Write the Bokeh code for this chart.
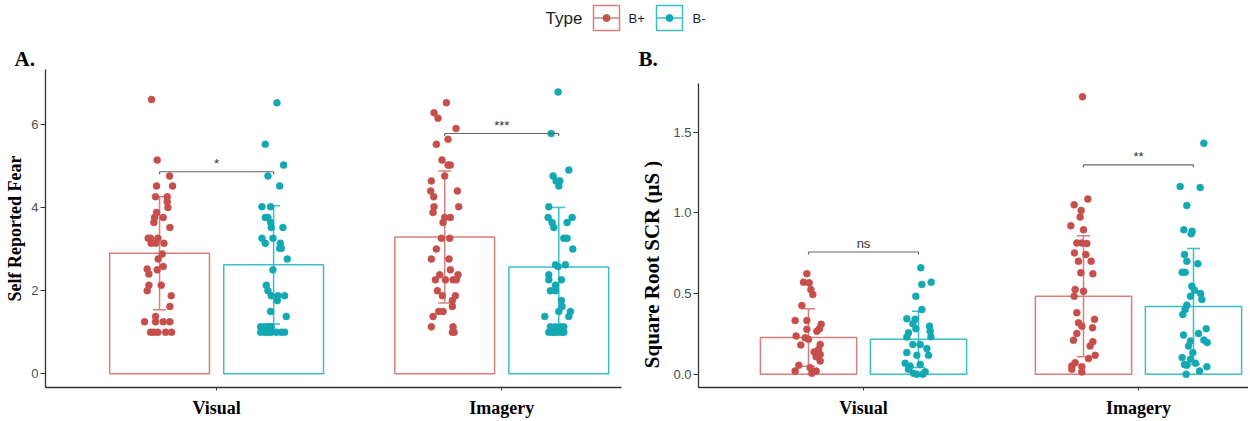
import math
from bokeh.plotting import figure
from bokeh.models import Range1d, FixedTicker, Whisker, TeeHead, ColumnDataSource, Title
from bokeh.layouts import row, column
from bokeh.embed import file_html
from bokeh.resources import INLINE
from bokeh.core.properties import value

# ---------------- data ----------------
categories = ["Visual", "Imagery"]
types = ["B+", "B-"]

# Panel A: self reported fear (bar = mean, error bar = SD)
fear_mean_bplus = [2.90, 3.29]
fear_mean_bminus = [2.62, 2.57]
fear_sd_bplus = [1.36, 1.59]
fear_sd_bminus = [1.42, 1.43]

fear_visual_bplus = [6.60, 5.14, 4.76, 4.52, 4.52, 4.26, 4.26, 4.14, 4.00, 3.88, 3.76, 3.76, 3.64, 3.52,
                     3.26, 3.26, 3.26, 3.14, 3.14, 3.14, 2.88, 2.76, 2.58, 2.52, 2.50, 2.40, 2.13, 2.13,
                     2.00, 1.88, 1.62, 1.25, 1.38, 1.25, 1.25, 1.25, 1.00, 1.00, 1.00, 1.00, 1.00]
fear_visual_bminus = [6.52, 5.52, 5.02, 4.76, 4.52, 4.02, 4.02, 3.76, 3.76, 3.64, 3.52, 3.52, 3.26, 3.26,
                      3.14, 3.14, 3.02, 3.02, 2.76, 2.50, 2.13, 2.00, 1.88, 1.88, 1.88, 1.76, 1.50, 1.38,
                      1.13, 1.13, 1.13, 1.13, 1.00, 1.00, 1.00, 1.00, 1.00, 1.00, 1.00]
fear_imagery_bplus = [6.52, 6.28, 6.15, 5.90, 5.64, 5.52, 5.14, 5.02, 5.02, 4.76, 4.64, 4.40, 4.40, 4.26,
                      4.02, 4.02, 3.88, 3.76, 3.76, 3.64, 3.26, 3.26, 3.00, 2.76, 2.76, 2.50, 2.38, 2.38,
                      2.26, 2.26, 2.26, 2.26, 2.00, 1.88, 1.88, 1.76, 1.62, 1.50, 1.50, 1.38, 1.13, 1.13,
                      1.00, 1.00]
fear_imagery_bminus = [6.78, 5.78, 4.90, 4.76, 4.64, 4.64, 4.52, 4.02, 3.76, 3.76, 3.64, 3.64, 3.52, 3.26,
                       3.26, 3.00, 2.62, 2.62, 2.58, 2.38, 2.26, 2.26, 2.13, 2.00, 2.00, 1.76, 1.62, 1.50,
                       1.50, 1.38, 1.38, 1.13, 1.13, 1.00, 1.00, 1.00, 1.00, 1.00, 1.13, 1.13, 1.00, 1.00]

# Panel B: square root SCR
scr_mean_bplus = [0.228, 0.483]
scr_mean_bminus = [0.216, 0.420]
scr_sd_bplus = [0.178, 0.375]
scr_sd_bminus = [0.174, 0.358]

scr_visual_bplus = [0.623, 0.570, 0.566, 0.525, 0.494, 0.426, 0.333, 0.333, 0.309, 0.282, 0.267, 0.278,
                    0.237, 0.226, 0.216, 0.181, 0.185, 0.154, 0.138, 0.123, 0.109, 0.082, 0.056, 0.020,
                    0.006, 0.020, 0.041]
scr_visual_bminus = [0.659, 0.570, 0.556, 0.483, 0.401, 0.344, 0.340, 0.313, 0.282, 0.298, 0.267, 0.257,
                     0.230, 0.232, 0.185, 0.185, 0.159, 0.134, 0.117, 0.117, 0.068, 0.051, 0.060, 0.006,
                     0.000, 0.015, 0.000, 0.031]
scr_imagery_bplus = [1.718, 1.085, 1.049, 1.014, 0.973, 0.920, 0.895, 0.813, 0.813, 0.809, 0.751, 0.741,
                     0.700, 0.700, 0.628, 0.622, 0.525, 0.514, 0.483, 0.381, 0.340, 0.319, 0.298, 0.288,
                     0.253, 0.210, 0.202, 0.175, 0.117, 0.097, 0.072, 0.051, 0.047, 0.014, 0.031]
scr_imagery_bminus = [1.430, 1.163, 1.156, 1.045, 0.895, 0.885, 0.870, 0.741, 0.700, 0.685, 0.631, 0.631,
                      0.545, 0.520, 0.500, 0.483, 0.463, 0.428, 0.401, 0.370, 0.282, 0.253, 0.243, 0.206,
                      0.212, 0.196, 0.175, 0.134, 0.103, 0.093, 0.056, 0.068, 0.020, 0.047, 0.000, 0.060]

# horizontal jitter of each point
jit_fear_visual_bplus = [-24, -7, 30, -9, 39, -12, 23, 23, 25, -9, 11, -15, -17, 31, -34, -27, -5, -25, -12, 13,
                         8, -4, 11, -37, -7, -32, 5, -32, -37, 35, 31, -45, -12, -12, 11, 31, -27, -17, -5, 18, 36]
jit_fear_visual_bminus = [10, -25, 30, -17, 18, -35, -9, -25, -17, -9, -7, 28, -35, -2, -25, 20, 23, 18, 41, -2,
                          -22, -17, -7, 13, 33, 11, -9, 38, -39, -27, -17, -7, -39, -27, -17, -7, 8, 23, 33]
jit_fear_imagery_bplus = [5, -32, -20, 34, 10, -25, -8, 10, 17, 0, -40, -42, 38, -33, -32, 42, -35, 0, 17, -5,
                          -10, 15, -25, -40, 13, 17, -15, 40, 25, -28, 2, 35, -22, -7, 32, 23, 23, -18, -5, -35,
                          -40, 25, 28, 23]
jit_fear_imagery_bminus = [-2, -23, 30, -17, 3, -8, 0, -30, -32, 40, -20, 25, -15, 15, 25, 42, -10, 20, -2, -30,
                           8, -30, -10, -25, -10, 8, 10, 0, 35, -42, 30, 5, 15, -30, -20, -10, 0, 15, -25, -10,
                           10, -15]
jit_scr_visual_bplus = [-5, -15, 2, 7, 13, -20, -40, -5, 38, 33, 25, -5, -37, -10, 0, -23, 35, 30, 17, 35,
                        23, 35, -29, -40, 10, 23, 5]
jit_scr_visual_bminus = [7, 38, 10, -8, 10, -35, -10, -17, -8, 33, 35, -30, -35, 37, 5, -17, 25, -35, 30, -5,
                         -40, -25, 5, -15, -5, 20, 13, -30]
jit_scr_imagery_bplus = [-3, 13, -28, -7, -10, -38, 0, -20, -5, 10, -27, 7, -15, 23, -8, 28, -25, 0, -28, -20,
                         33, -15, -5, 27, -20, -30, 28, 20, 35, 15, -25, -35, -5, -5, -35]
jit_scr_imagery_bminus = [31, -40, 20, -20, -29, -4, -7, -27, -20, 13, -34, -25, -5, 3, 21, -9, 25, -20, -25, -32,
                          38, 15, -30, -9, 31, 41, -15, -2, -34, -9, -20, 6, 18, 40, -22, -27]

# significance brackets
sig_fear_y = [4.86, 5.78]
sig_fear_label = ["*", "***"]
sig_scr_y = [0.757, 1.296]
sig_scr_label = ["ns", "**"]

# ---------------- styles ----------------
PT_COL = {"B+": "#C64F4B", "B-": "#13A8B3"}
BAR_COL = {"B+": "#D6807C", "B-": "#3CBEC6"}
DODGE = {"B+": -0.2, "B-": 0.2}
BAR_W = 0.35
SERIF = "Liberation Serif"
SANS = "Liberation Sans"
AXIS_COL = "#333333"
PANEL_H = 386
B_TOP, B_BOT = 35, 32


def panel_title(text, offset):
    return Title(text=text, align="left", offset=offset, standoff=-2,
                 text_font=SERIF, text_font_style="bold", text_font_size="21px", text_color="black")


def make_panel(width, border_left, border_right, ylo, yhi, ybounds, yticks, fmt,
               title, title_offset, ylabel, ylabel_size, ylabel_standoff,
               means, sds, pts, jits, jscale, sig_y, sig_lab, drop, xend):
    p = figure(width=width, height=PANEL_H, x_range=Range1d(0.4, xend),
               y_range=Range1d(ylo, yhi), toolbar_location=None, output_backend="svg",
               min_border_left=border_left, min_border_right=border_right,
               min_border_top=B_TOP, min_border_bottom=B_BOT)
    if title is not None:
        p.title = panel_title(title, title_offset)
    p.outline_line_color = None
    p.xgrid.visible = False
    p.ygrid.visible = False
    pos = [i + 1 for i in range(len(categories))]

    for t in types:
        xs = [c + DODGE[t] for c in pos]
        p.vbar(x=xs, top=means[t], bottom=0, width=BAR_W, fill_color=None,
               line_color=BAR_COL[t], line_width=1.5)
    for t in types:
        for ci, c in enumerate(pos):
            vals = pts[t][ci]
            jit = jits[t][ci]
            x = [c + DODGE[t] + j / jscale for j in jit]
            p.scatter(x=x, y=vals, size=7, fill_color=PT_COL[t], line_color=PT_COL[t], line_width=0.5)
    for t in types:
        xs = [c + DODGE[t] for c in pos]
        src = ColumnDataSource(dict(x=xs, lo=[m - s for m, s in zip(means[t], sds[t])],
                                    hi=[m + s for m, s in zip(means[t], sds[t])]))
        w = Whisker(base="x", lower="lo", upper="hi", source=src, line_color=BAR_COL[t], line_width=1.5,
                    upper_head=TeeHead(size=13, line_color=BAR_COL[t], line_width=1.5),
                    lower_head=TeeHead(size=13, line_color=BAR_COL[t], line_width=1.5))
        p.add_layout(w)

    # brackets
    x0 = [c + DODGE["B+"] for c in pos]
    x1 = [c + DODGE["B-"] for c in pos]
    p.segment(x0=x0, x1=x1, y0=sig_y, y1=sig_y, line_color="#666666", line_width=1.2)
    p.segment(x0=x0, x1=x0, y0=sig_y, y1=[y - drop for y in sig_y], line_color="#666666", line_width=1.2)
    p.segment(x0=x1, x1=x1, y0=sig_y, y1=[y - drop for y in sig_y], line_color="#666666", line_width=1.2)
    p.text(x=pos, y=sig_y, text=sig_lab, text_align="center", text_baseline="bottom",
           text_font=value(SANS), text_font_size="13px", text_color="#333333", y_offset=-1)

    # axes
    xa = p.xaxis[0]
    xa.ticker = FixedTicker(ticks=pos)
    xa.major_label_overrides = {c: lab for c, lab in zip(pos, categories)}
    xa.major_label_text_font = SERIF
    xa.major_label_text_font_style = "bold"
    xa.major_label_text_font_size = "18px"
    xa.major_label_text_color = "black"
    xa.major_tick_out = 3
    xa.major_tick_in = 0
    xa.minor_tick_out = 0
    xa.minor_tick_in = 0
    xa.major_label_standoff = 7
    xa.axis_label_standoff = 0
    xa.axis_line_color = AXIS_COL
    xa.axis_line_width = 1.3
    xa.major_tick_line_color = AXIS_COL

    ya = p.yaxis[0]
    ya.ticker = FixedTicker(ticks=yticks)
    ya.bounds = ybounds
    ya.major_label_overrides = {v: fmt.format(v) for v in yticks}
    ya.major_label_text_font = SANS
    ya.major_label_text_font_size = "13px"
    ya.major_label_text_color = "#4D4D4D"
    ya.major_tick_out = 5
    ya.major_tick_in = 0
    ya.minor_tick_out = 0
    ya.minor_tick_in = 0
    ya.major_label_standoff = 2
    ya.axis_line_color = AXIS_COL
    ya.axis_line_width = 1.3
    ya.major_tick_line_color = AXIS_COL
    if ylabel is not None:
        ya.axis_label = ylabel
        ya.axis_label_text_font = SERIF
        ya.axis_label_text_font_style = "bold"
        ya.axis_label_text_font_size = ylabel_size
        ya.axis_label_text_color = "black"
        ya.axis_label_standoff = ylabel_standoff
    return p


pA = make_panel(630, 45, 9, -0.33, 7.32, (-0.33, 7.32), [0, 2, 4, 6], "{:.0f}",
                "A.", -31, "Self Reported Fear", "18px", 3,
                {"B+": fear_mean_bplus, "B-": fear_mean_bminus},
                {"B+": fear_sd_bplus, "B-": fear_sd_bminus},
                {"B+": [fear_visual_bplus, fear_imagery_bplus], "B-": [fear_visual_bminus, fear_imagery_bminus]},
                {"B+": [jit_fear_visual_bplus, jit_fear_imagery_bplus],
                 "B-": [jit_fear_visual_bminus, jit_fear_imagery_bminus]},
                855.0, sig_fear_y, sig_fear_label, 0.06, 2.42)

B_YLO, B_YHI = -0.082, 1.887
pB = make_panel(586, 36, 0, B_YLO, B_YHI, (-0.082, 1.80), [0.0, 0.5, 1.0, 1.5], "{:.1f}",
                None, 0, None, None, None,
                {"B+": scr_mean_bplus, "B-": scr_mean_bminus},
                {"B+": scr_sd_bplus, "B-": scr_sd_bminus},
                {"B+": [scr_visual_bplus, scr_imagery_bplus], "B-": [scr_visual_bminus, scr_imagery_bminus]},
                {"B+": [jit_scr_visual_bplus, jit_scr_imagery_bplus],
                 "B-": [jit_scr_visual_bminus, jit_scr_imagery_bminus]},
                823.5, sig_scr_y, sig_scr_label, 0.015, 2.40)

# narrow strip carrying the "B." tag and panel B's y-axis title (placed lower, as in the original)
LAB_W = 32
labB = figure(width=LAB_W, height=PANEL_H, x_range=Range1d(0, LAB_W), y_range=Range1d(B_YLO, B_YHI),
              toolbar_location=None, output_backend="svg", min_border_left=0, min_border_right=0,
              min_border_top=B_TOP, min_border_bottom=B_BOT, x_axis_type=None, y_axis_type=None)
labB.outline_line_color = None
labB.xgrid.visible = False
labB.ygrid.visible = False
labB.title = panel_title("B.", 8)
labB.text(x=[21], y=[0.68], text=["Square Root SCR (μS )"], angle=math.pi / 2,
          text_align="center", text_baseline="middle", text_font=value(SERIF),
          text_font_style="bold", text_font_size="21px", text_color="black")

# ---------------- legend strip ----------------
LEG_H = 34
leg = figure(width=1248, height=LEG_H, x_range=Range1d(0, 1248), y_range=Range1d(0, LEG_H),
             toolbar_location=None, output_backend="svg", min_border=0,
             x_axis_type=None, y_axis_type=None)
leg.xgrid.visible = False
leg.ygrid.visible = False
leg.outline_line_color = None
key_x = [606, 669]
lab_x = [628, 692]
mid = LEG_H - 17.5
leg.text(x=[545], y=[mid], text=["Type"], text_align="left", text_baseline="middle",
         text_font=value(SANS), text_font_size="17px", text_color="#222222")
for t, kx, lx in zip(types, key_x, lab_x):
    leg.rect(x=[kx], y=[mid], width=26, height=25, fill_color="white",
             line_color=BAR_COL[t], line_width=1.5)
    leg.segment(x0=[kx - 13], x1=[kx + 13], y0=[mid], y1=[mid], line_color=BAR_COL[t], line_width=1.5)
    leg.scatter(x=[kx], y=[mid], size=7, fill_color=PT_COL[t], line_color=PT_COL[t])
    leg.text(x=[lx], y=[mid], text=[t], text_align="left", text_baseline="middle",
             text_font=value(SANS), text_font_size="13px", text_color="#222222")

layout = column(leg, row(pA, labB, pB, spacing=0), spacing=0)
open("out.html", "w").write(file_html(layout, INLINE))
